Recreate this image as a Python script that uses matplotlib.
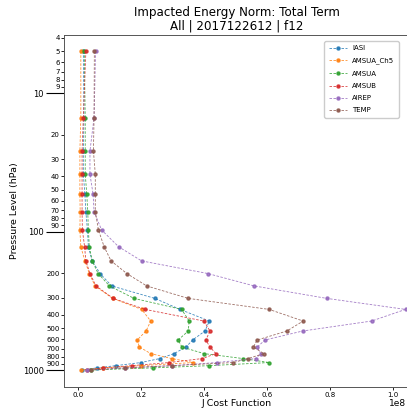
import numpy as np
import matplotlib
matplotlib.use("Agg")
import matplotlib.pyplot as plt
from matplotlib.ticker import FixedLocator, FixedFormatter

# Pressure levels (hPa)
levels = [5, 15.1, 26.2, 38.6, 53.8, 71.9, 97.5, 128.8, 163, 201, 247, 304, 365,
          443, 523, 607, 682, 761, 826, 883, 930, 965, 1000]

# J cost function values (units of 1e8)
iasi = [0.017, 0.019, 0.017, 0.017, 0.022, 0.025, 0.030, 0.033, 0.045, 0.070, 0.107,
        0.244, 0.324, 0.417, 0.403, 0.364, 0.343, 0.305, 0.260, 0.200, 0.120, 0.060, 0.012]
amsua_ch5 = [0.009, 0.009, 0.006, 0.006, 0.006, 0.007, 0.006, 0.009, 0.022, 0.036, 0.054,
             0.110, 0.202, 0.231, 0.216, 0.188, 0.195, 0.231, 0.297, 0.366, 0.200, 0.080, 0.010]
amsua = [0.020, 0.023, 0.023, 0.023, 0.028, 0.031, 0.033, 0.036, 0.045, 0.064, 0.100,
         0.178, 0.329, 0.353, 0.350, 0.318, 0.330, 0.400, 0.523, 0.607, 0.417, 0.237, 0.040]
amsub = [0.025, 0.017, 0.013, 0.013, 0.013, 0.013, 0.014, 0.021, 0.025, 0.038, 0.057,
         0.112, 0.213, 0.400, 0.419, 0.406, 0.419, 0.438, 0.395, 0.290, 0.170, 0.080, 0.030]
airep = [0.056, 0.051, 0.038, 0.038, 0.048, 0.051, 0.075, 0.129, 0.202, 0.412, 0.559,
         0.790, 1.040, 0.932, 0.713, 0.594, 0.569, 0.580, 0.565, 0.440, 0.300, 0.150, 0.030]
temp = [0.052, 0.051, 0.049, 0.055, 0.055, 0.055, 0.065, 0.083, 0.105, 0.155, 0.218,
        0.350, 0.607, 0.715, 0.663, 0.569, 0.557, 0.590, 0.540, 0.493, 0.300, 0.150, 0.040]

series = [("IASI", iasi), ("AMSUA_Ch5", amsua_ch5), ("AMSUA", amsua),
          ("AMSUB", amsub), ("AIREP", airep), ("TEMP", temp)]
colors = ["#1f77b4", "#ff7f0e", "#2ca02c", "#d62728", "#9467bd", "#8c564b"]

major_ticks = [10, 100, 1000]
minor_ticks = [4, 5, 6, 7, 8, 9, 20, 30, 40, 50, 60, 70, 80, 90,
               200, 300, 400, 500, 600, 700, 800, 900]

W, H = 407, 409
fig = plt.figure(figsize=(W / 100, H / 100), dpi=100)
ax = fig.add_axes([64 / W, 1 - 387 / H, (409 - 64) / W, (387 - 35) / H])

for (name, vals), c in zip(series, colors):
    ax.plot(np.array(vals) * 1e8, levels, linestyle="--", marker="o", color=c,
            lw=0.6, ms=2.2, alpha=0.85, dashes=(3, 1.8), label=name)

ax.set_yscale("log")
ax.set_ylim(1326, 3.813)
ax.set_xlim(-0.0444e8, 1.051e8)

ax.yaxis.set_major_locator(FixedLocator(major_ticks))
ax.yaxis.set_major_formatter(FixedFormatter([str(t) for t in major_ticks]))
ax.yaxis.set_minor_locator(FixedLocator(minor_ticks))
ax.yaxis.set_minor_formatter(FixedFormatter([str(t) for t in minor_ticks]))
ax.tick_params(axis="y", which="major", length=13, width=0.8, labelsize=6, pad=1.5)
ax.tick_params(axis="y", which="minor", length=2, width=0.6, labelsize=5, pad=1)
ax.tick_params(axis="x", which="major", length=2, width=0.6, labelsize=5, pad=1.5)

ax.set_xticks(np.array([0.0, 0.2, 0.4, 0.6, 0.8, 1.0]) * 1e8)
ax.xaxis.get_offset_text().set_visible(False)
fig.text(406 / W, 1 - 403 / H, "1e8", fontsize=6.5, ha="right", va="center")

ax.spines["right"].set_visible(False)
for s in ["left", "bottom", "top"]:
    ax.spines[s].set_linewidth(0.7)
    ax.spines[s].set_color("#555555")

ax.set_xlabel("J Cost Function", fontsize=6.8, labelpad=1)
ax.set_ylabel("Pressure Level (hPa)", fontsize=6.8, labelpad=3)
ax.set_title("Impacted Energy Norm: Total Term\nAll | 2017122612 | f12", fontsize=8.6,
             pad=4, linespacing=1.0)

ax.legend(loc="upper left", bbox_to_anchor=((321 - 64) / (409 - 64), 0.992), fontsize=5,
          handlelength=2.6, borderpad=0.6, labelspacing=0.9, framealpha=1.0,
          edgecolor="#cccccc")

fig.savefig("out.png", dpi=100)
